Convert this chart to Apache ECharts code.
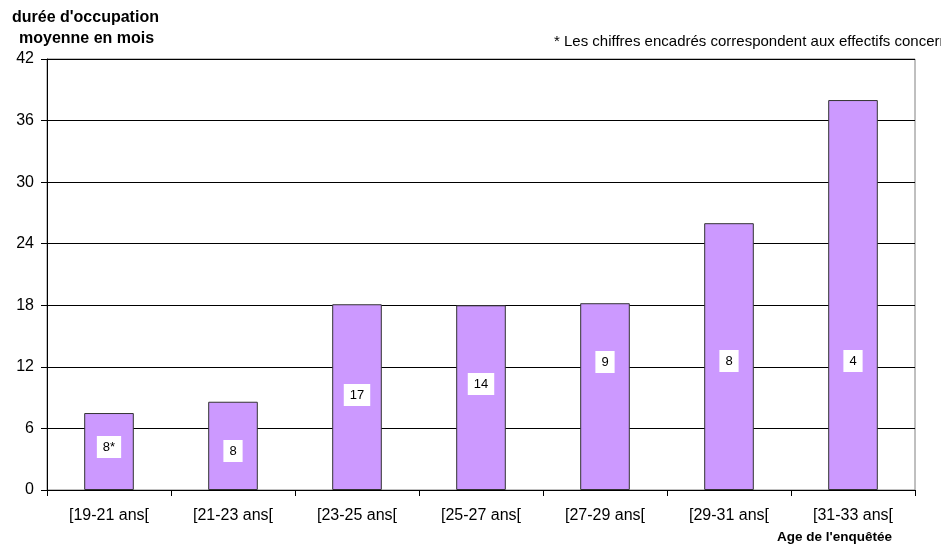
<!DOCTYPE html>
<html><head><meta charset="utf-8">
<script src="https://cdn.jsdelivr.net/npm/echarts@6/dist/echarts.min.js"></script>
<style>html,body{margin:0;padding:0;background:#fff}#c{width:941px;height:548px}</style>
</head><body><div id="c"></div>
<script>
const categories = ['[19-21 ans[', '[21-23 ans[', '[23-25 ans[', '[25-27 ans[', '[27-29 ans[', '[29-31 ans[', '[31-33 ans['];
const dureeMoyenne = [7.5, 8.6, 18.1, 18.0, 18.2, 26.0, 38.0];
const effectifs = ['8*', '8', '17', '14', '9', '8', '4'];
const yTicks = [0, 6, 12, 18, 24, 30, 36, 42];
// label heights above bar base (layout, px)
const labelLift = [44, 40, 96, 107, 129, 130, 130];

const chart = echarts.init(document.getElementById('c'), null, {renderer: 'canvas'});
const font = '"Liberation Sans", Arial, sans-serif';
chart.setOption({
  animation: false,
  backgroundColor: '#fff',
  textStyle: {fontFamily: font},
  grid: {left: 47, right: 26, top: 59, bottom: 58, show: true, borderColor: '#808080', borderWidth: 1},
  xAxis: {
    type: 'category', data: categories,
    axisLine: {lineStyle: {color: '#000', width: 1}},
    axisTick: {show: true, length: 6, lineStyle: {color: '#000'}},
    axisLabel: {color: '#000', fontSize: 16, margin: 18, fontFamily: font},
    name: "Age de l'enquêtée", nameLocation: 'end',
    nameTextStyle: {fontWeight: 'bold', fontSize: 13.5, color: '#000', align: 'right', verticalAlign: 'top', padding: [40, 0, 0, 0]},
    nameGap: -23
  },
  yAxis: {
    type: 'value', min: 0, max: 42, interval: 6,
    axisLine: {show: true, lineStyle: {color: '#000'}},
    axisTick: {show: true, length: 6, lineStyle: {color: '#000'}},
    axisLabel: {color: '#000', fontSize: 16, margin: 13, fontFamily: font,
      formatter: v => yTicks.includes(v) ? String(v) : ''},
    splitLine: {show: true, lineStyle: {color: '#000', width: 1}}
  },
  series: [{
    type: 'bar',
    barWidth: '40%',
    itemStyle: {color: '#CC99FF', borderColor: '#333', borderWidth: 1},
    data: dureeMoyenne.map((v, i) => ({
      value: v,
      label: {
        show: true, position: 'insideBottom', distance: labelLift[i] - 12,
        formatter: effectifs[i], backgroundColor: '#fff', padding: [5, 6, 4, 6],
        color: '#000', fontSize: 13, fontFamily: font
      }
    }))
  }],
  graphic: [
    {type: 'text', left: 12, top: 10, style: {text: "durée d'occupation", font: 'bold 16px ' + font, fill: '#000'}},
    {type: 'text', left: 19, top: 31, style: {text: 'moyenne en mois', font: 'bold 16px ' + font, fill: '#000'}},
    {type: 'text', left: 554, top: 34, style: {text: '* Les chiffres encadrés correspondent aux effectifs concernés', font: '15px ' + font, fill: '#000'}}
  ]
});
</script></body></html>
